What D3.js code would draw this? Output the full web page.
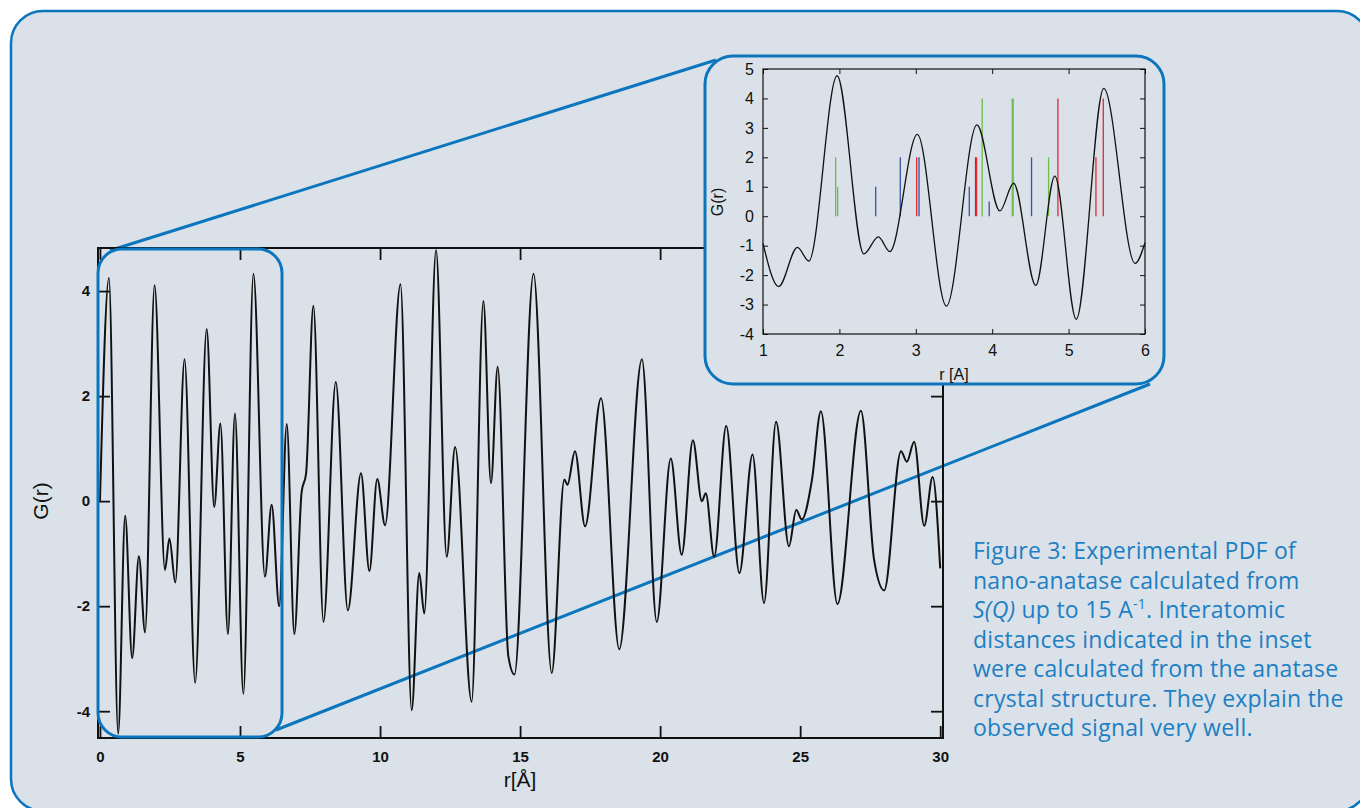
<!DOCTYPE html>
<html>
<head>
<meta charset="utf-8">
<script src="https://cdnjs.cloudflare.com/ajax/libs/d3/7.8.5/d3.min.js"></script>
<style>
body { margin: 0; background: #ffffff; }
</style>
</head>
<body>
<div class="d3Graph"></div>
<script>
// main PDF curve (extrema and shoulders)
var mainR = [0, 0.32, 0.65, 0.90, 1.15, 1.39, 1.61, 1.95, 2.32, 2.48, 2.69, 3.02, 3.40, 3.81, 4.08, 4.30, 4.57, 4.82, 5.12, 5.48,
             5.89, 6.13, 6.40, 6.67, 6.94, 7.20, 7.36, 7.62, 7.98, 8.42, 8.85, 9.32, 9.62, 9.90, 10.18, 10.73, 11.13, 11.40, 11.58, 12.0,
             12.38, 12.68, 13.27, 13.69, 13.96, 14.20, 14.58, 14.80, 15.48, 16.13, 16.58, 16.69, 16.96, 17.32, 17.89, 18.54, 19.35, 19.88,
             20.38, 20.77, 21.17, 21.49, 21.63, 21.93, 22.36, 22.83, 23.30, 23.71, 24.14, 24.60, 24.86, 25.06, 25.42, 25.74, 26.33,
             27.17, 27.64, 28.0, 28.60, 28.81, 29.07, 29.43, 29.73, 30];
var mainG = [0, 4.25, -4.43, -0.28, -2.99, -1.05, -2.50, 4.11, -1.31, -0.71, -1.55, 2.70, -3.46, 3.28, -0.11, 1.48, -2.53, 1.67, -3.67, 4.33,
             -1.44, -0.07, -2.0, 1.47, -2.53, 0.17, 0.53, 3.72, -2.30, 2.27, -2.08, 0.53, -1.33, 0.42, -0.46, 4.13, -3.98, -1.37, -2.14, 4.78,
             -1.06, 1.03, -3.82, 3.81, 0.34, 2.56, -2.95, -3.30, 4.33, -3.27, 0.41, 0.31, 0.95, -0.48, 1.96, -2.82, 2.70, -2.30,
             0.81, -1.02, 1.16, 0.0, 0.15, -1.06, 1.43, -1.37, 0.89, -1.94, 1.51, -0.86, -0.17, -0.35, 0.40, 1.71, -1.96,
             1.72, -1.12, -1.70, 0.95, 0.75, 1.13, -0.47, 0.46, -1.28];
var mainXTicks = [0, 5, 10, 15, 20, 25, 30];
var mainYTicks = [-4, -2, 0, 2, 4];

// inset curve 1-6 A
var insetR = [1.0, 1.205, 1.45, 1.60, 1.97, 2.32, 2.51, 2.66, 3.02, 3.40, 3.80, 4.10, 4.28, 4.57, 4.82, 5.10, 5.46, 5.87, 6.0];
var insetG = [-0.92, -2.39, -1.06, -1.52, 4.77, -1.28, -0.70, -1.20, 2.78, -3.05, 3.10, 0.18, 1.12, -2.35, 1.36, -3.50, 4.34, -1.60, -0.90];
var insetXTicks = [1, 2, 3, 4, 5, 6];
var insetYTicks = [-4, -3, -2, -1, 0, 1, 2, 3, 4, 5];

// interatomic distances from the anatase structure
var distR = [1.951, 1.977, 2.475, 2.797, 3.011, 3.042, 3.70, 3.782, 3.795, 3.869, 3.961, 4.262, 4.275, 4.515, 4.738, 4.86, 5.358, 5.454];
var distN = [2, 1, 1, 2, 2, 2, 1, 2, 2, 4, 0.5, 4, 4, 2, 2, 4, 2, 4];
var distPair = ["Ti-O", "Ti-O", "O-O", "O-O", "Ti-Ti", "O-O", "O-O", "O-O", "Ti-Ti", "Ti-O", "O-O", "Ti-O", "Ti-O", "O-O", "Ti-O", "Ti-Ti", "Ti-Ti", "Ti-Ti"];

var caption = ["Figure 3: Experimental PDF of", "nano-anatase calculated from", null,
               "distances indicated in the inset", "were calculated from the anatase",
               "crystal structure. They explain the", "observed signal very well."];

var blue = "#0b76be";
var plain = function(d) { return String(d); };   // hyphen minus, like the original

var svg = d3.select(".d3Graph")
    .append("svg")
    .attr("width", 1360)
    .attr("height", 808)
    .style("font-family", "'Liberation Sans', Arial, sans-serif");

svg.append("rect")
    .attr("x", 11).attr("y", 11)
    .attr("width", 1358).attr("height", 800)
    .attr("rx", 32)
    .attr("fill", "#dae1e8")
    .attr("stroke", blue)
    .attr("stroke-width", 2.5);

// connector lines (drawn first, inset covers their ends)
svg.append("line")
    .attr("x1", 110).attr("y1", 250.5).attr("x2", 716).attr("y2", 60)
    .attr("stroke", blue).attr("stroke-width", 3);
svg.append("line")
    .attr("x1", 276).attr("y1", 730).attr("x2", 1150).attr("y2", 384)
    .attr("stroke", blue).attr("stroke-width", 3);

// ---- main chart ----
var x = d3.scaleLinear().domain([-0.07, 30.1]).range([98, 943]);
var y = d3.scaleLinear().domain([-4.51, 4.82]).range([738, 248]);

var main = svg.append("g");

function styleAxis(g, size, bold) {
    g.select(".domain").remove();
    g.selectAll(".tick line").attr("stroke", "#111").attr("stroke-width", 1.8);
    g.selectAll(".tick text")
        .attr("fill", "#111")
        .style("font-size", size + "px")
        .style("font-weight", bold ? "bold" : "normal")
        .style("font-family", "'Liberation Sans', Arial, sans-serif");
}

main.append("g").attr("transform", "translate(0,738)")
    .call(d3.axisBottom(x).tickValues(mainXTicks).tickFormat(plain).tickSizeInner(-12).tickSizeOuter(0).tickPadding(13))
    .call(styleAxis, 15, true);
main.append("g").attr("transform", "translate(0,248)")
    .call(d3.axisTop(x).tickValues(mainXTicks).tickSizeInner(-12).tickSizeOuter(0).tickFormat(""))
    .call(styleAxis, 15, true);
main.append("g").attr("transform", "translate(98,0)")
    .call(d3.axisLeft(y).tickValues(mainYTicks).tickFormat(plain).tickSizeInner(-12).tickSizeOuter(0).tickPadding(8))
    .call(styleAxis, 15, true);
main.append("g").attr("transform", "translate(943,0)")
    .call(d3.axisRight(y).tickValues(mainYTicks).tickSizeInner(-12).tickSizeOuter(0).tickFormat(""))
    .call(styleAxis, 15, true);

main.append("rect")
    .attr("x", 98).attr("y", 248)
    .attr("width", 845).attr("height", 490)
    .attr("fill", "none")
    .attr("stroke", "#111")
    .attr("stroke-width", 2);

var mainLine = d3.line()
    .x(function(d, i) { return x(mainR[i]); })
    .y(function(d) { return y(d); })
    .curve(d3.curveMonotoneX);

main.append("path")
    .datum(mainG)
    .attr("d", mainLine)
    .attr("fill", "none")
    .attr("stroke", "#111")
    .attr("stroke-width", 2);

main.append("text")
    .attr("transform", "translate(48,501) rotate(-90)")
    .attr("text-anchor", "middle")
    .style("font-size", "21px")
    .attr("fill", "#111")
    .text("G(r)");

main.append("text")
    .attr("x", 520).attr("y", 787)
    .attr("text-anchor", "middle")
    .style("font-size", "21px")
    .attr("fill", "#111")
    .text("r[Å]");

// zoom window on the main plot
svg.append("rect")
    .attr("x", 98).attr("y", 249)
    .attr("width", 184).attr("height", 488)
    .attr("rx", 24)
    .attr("fill", "none")
    .attr("stroke", blue)
    .attr("stroke-width", 3);

// ---- inset ----
svg.append("rect")
    .attr("x", 705).attr("y", 56)
    .attr("width", 459).attr("height", 328)
    .attr("rx", 28)
    .attr("fill", "#dae1e8")
    .attr("stroke", blue)
    .attr("stroke-width", 3);

var xi = d3.scaleLinear().domain([1, 6]).range([763, 1145]);
var yi = d3.scaleLinear().domain([-4, 5]).range([334, 69]);

var inset = svg.append("g");

function styleInset(g) {
    g.select(".domain").remove();
    g.selectAll(".tick line").attr("stroke", "#111").attr("stroke-width", 1);
    g.selectAll(".tick text")
        .attr("fill", "#111")
        .style("font-size", "16px")
        .style("font-family", "'Liberation Sans', Arial, sans-serif");
}

inset.append("g").attr("transform", "translate(0,334)")
    .call(d3.axisBottom(xi).tickValues(insetXTicks).tickFormat(plain).tickSizeInner(-5).tickSizeOuter(0).tickPadding(11))
    .call(styleInset);
inset.append("g").attr("transform", "translate(0,69)")
    .call(d3.axisTop(xi).tickValues(insetXTicks).tickSizeInner(-5).tickSizeOuter(0).tickFormat(""))
    .call(styleInset);
inset.append("g").attr("transform", "translate(763,0)")
    .call(d3.axisLeft(yi).tickValues(insetYTicks).tickFormat(plain).tickSizeInner(-5).tickSizeOuter(0).tickPadding(9))
    .call(styleInset);
inset.append("g").attr("transform", "translate(1145,0)")
    .call(d3.axisRight(yi).tickValues(insetYTicks).tickSizeInner(-5).tickSizeOuter(0).tickFormat(""))
    .call(styleInset);

inset.append("rect")
    .attr("x", 763).attr("y", 69)
    .attr("width", 382).attr("height", 265)
    .attr("fill", "none")
    .attr("stroke", "#111")
    .attr("stroke-width", 1.2);

var pairColor = d3.scaleOrdinal()
    .domain(["Ti-O", "O-O", "Ti-Ti"])
    .range(["#6cbd4a", "#3a50a8", "#e8262e"]);

inset.selectAll(".dist")
    .data(distR)
    .enter()
    .append("line")
    .attr("class", "dist")
    .attr("x1", function(d) { return xi(d); })
    .attr("x2", function(d) { return xi(d); })
    .attr("y1", yi(0))
    .attr("y2", function(d, i) { return yi(distN[i]); })
    .attr("stroke", function(d, i) { return pairColor(distPair[i]); })
    .attr("stroke-width", 1.3);

var insetLine = d3.line()
    .x(function(d, i) { return xi(insetR[i]); })
    .y(function(d) { return yi(d); })
    .curve(d3.curveMonotoneX);

inset.append("path")
    .datum(insetG)
    .attr("d", insetLine)
    .attr("fill", "none")
    .attr("stroke", "#111")
    .attr("stroke-width", 1.3);

inset.append("text")
    .attr("transform", "translate(723,202) rotate(-90)")
    .attr("text-anchor", "middle")
    .style("font-size", "16px")
    .attr("fill", "#111")
    .text("G(r)");

inset.append("text")
    .attr("x", 954).attr("y", 380)
    .attr("text-anchor", "middle")
    .style("font-size", "16px")
    .attr("fill", "#111")
    .text("r [A]");

// ---- caption ----
var cap = svg.append("text")
    .attr("x", 973).attr("y", 559)
    .attr("fill", "#1d7fc3")
    .style("font-family", "'Open Sans', 'Liberation Sans', sans-serif")
    .style("font-weight", "400")
    .style("font-size", "23px")
    .style("letter-spacing", "0.25px");

caption.forEach(function(line, i) {
    var t = cap.append("tspan").attr("x", 973).attr("y", 559 + i * 29.5);
    if (line === null) {
        t.append("tspan").style("font-style", "italic").text("S(Q)");
        t.append("tspan").text(" up to 15 A");
        t.append("tspan").attr("dy", -9).style("font-size", "14px").text("-1");
        t.append("tspan").attr("dy", 9).text(". Interatomic");
    } else {
        t.text(line);
    }
});
</script>
</body>
</html>
